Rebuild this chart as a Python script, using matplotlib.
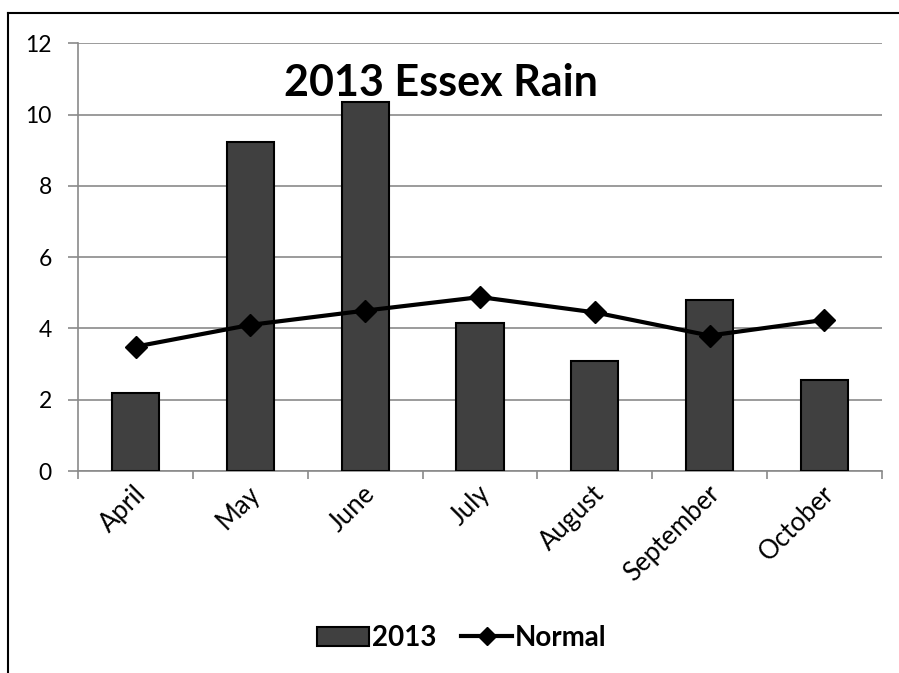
import matplotlib
matplotlib.use("Agg")
import matplotlib.pyplot as plt
import matplotlib.transforms as mtransforms
from matplotlib.lines import Line2D
from matplotlib.patches import Patch
import numpy as np

plt.rcParams['font.family'] = ['Lato', 'DejaVu Sans']

months = ["April", "May", "June", "July", "August", "September", "October"]
rain_2013 = [2.18, 9.23, 10.35, 4.15, 3.08, 4.80, 2.56]
rain_normal = [3.49, 4.10, 4.50, 4.88, 4.45, 3.80, 4.24]
y_ticks = [0, 2, 4, 6, 8, 10, 12]

W, H = 899, 673
fig = plt.figure(figsize=(W / 100, H / 100), dpi=100)
ax = fig.add_axes([78.3 / W, 1 - 471 / H, (881.7 - 78.3) / W, (471 - 43.3) / H])

x = np.arange(len(months))
grid_c = "#8a8a8a"

ax.bar(x, rain_2013, width=0.41, color="#404040", edgecolor="black",
       linewidth=1.5, zorder=3)
ax.plot(x, rain_normal, color="black", linewidth=3, marker="D",
        markersize=11, zorder=4)

ax.set_xlim(-0.5, len(months) - 0.5)
ax.set_ylim(0, 12)
ax.set_yticks(y_ticks)
ax.set_yticklabels([str(v) for v in y_ticks], fontsize=16.5)
ax.yaxis.grid(True, color=grid_c, linewidth=1.2, zorder=0)
ax.set_axisbelow(True)

for s in ["top", "right"]:
    ax.spines[s].set_visible(False)
for s in ["left", "bottom"]:
    ax.spines[s].set_color(grid_c)
    ax.spines[s].set_linewidth(1.2)

ax.tick_params(axis="y", length=7, width=1.2, color=grid_c, pad=12)
# category boundary ticks on x axis
ax.set_xticks(np.arange(-0.5, len(months), 1.0))
ax.set_xticklabels([])
ax.tick_params(axis="x", length=6, width=1.2, color=grid_c)

offset = mtransforms.ScaledTranslation(0.06, -0.19, fig.dpi_scale_trans)
for i, m in enumerate(months):
    ax.text(i, 0, m, rotation=45, rotation_mode="anchor", ha="right",
            va="center", fontsize=18.5,
            transform=ax.get_xaxis_transform() + offset)

fig.text(441 / W, 1 - 83 / H, "2013 Essex Rain", ha="center", va="center",
         fontsize=31, fontweight="bold")

handles = [Patch(facecolor="#404040", edgecolor="black", linewidth=1.5),
           Line2D([0], [0], color="black", linewidth=3, marker="D", markersize=9)]
fig.legend(handles, ["2013", "Normal"], loc="center",
           bbox_to_anchor=(462 / W, 1 - 638 / H), ncol=2, frameon=False,
           prop={"size": 20, "weight": "bold"}, handlelength=1.85,
           handleheight=0.65, handletextpad=0.1, columnspacing=0.9)

# outer chart frame
fig.add_artist(Line2D([8 / W, 8 / W], [0, 1 - 13 / H], color="black",
                      linewidth=1.5, transform=fig.transFigure))
fig.add_artist(Line2D([8 / W, 1], [1 - 13 / H, 1 - 13 / H], color="black",
                      linewidth=1.5, transform=fig.transFigure))

fig.savefig("out.png", dpi=100, facecolor="white")
